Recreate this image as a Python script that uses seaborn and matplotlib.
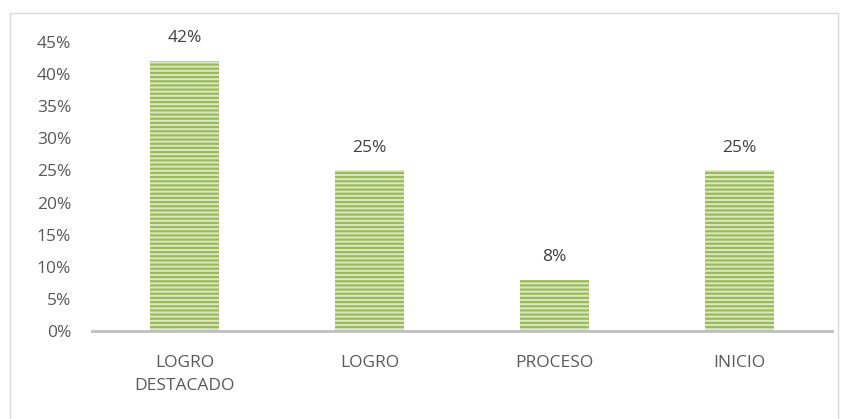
import matplotlib
matplotlib.use("Agg")
import matplotlib.pyplot as plt
import seaborn as sns
import pandas as pd
from matplotlib.patches import Rectangle

categories = ["LOGRO\nDESTACADO", "LOGRO", "PROCESO", "INICIO"]
values = [0.42, 0.25, 0.08, 0.25]
labels = ["42%", "25%", "8%", "25%"]
yticks = [0, 0.05, 0.10, 0.15, 0.20, 0.25, 0.30, 0.35, 0.40, 0.45]
yticklabels = ["0%", "5%", "10%", "15%", "20%", "25%", "30%", "35%", "40%", "45%"]

sns.set_style("white")
plt.rcParams["font.family"] = ["Open Sans", "DejaVu Sans"]
plt.rcParams["hatch.linewidth"] = 1.6

df = pd.DataFrame({"cat": categories, "val": values})

fig = plt.figure(figsize=(8.48, 4.19), dpi=100)
ax = fig.add_axes([92/848, 1-331/419, 740/848, (331-42)/419])

sns.barplot(data=df, x="cat", y="val", ax=ax, width=0.37,
            color="#dbe8c4", saturation=1)
for p in ax.patches:
    p.set_hatch("----")
    p.set_edgecolor("#9bbb59")
    p.set_linewidth(0)

for i, (v, t) in enumerate(zip(values, labels)):
    ax.text(i, v + 0.023, t, ha="center", va="bottom", fontsize=12.5,
            color="#404040", clip_on=False)

ax.set_ylim(0, 0.45)
ax.set_xlim(-0.5, 3.5)
ax.set_yticks(yticks)
ax.set_yticklabels(yticklabels)
ax.tick_params(axis="y", length=0, labelsize=12.5, labelcolor="#595959", pad=15)
ax.tick_params(axis="x", length=0, labelsize=12.5, labelcolor="#595959", pad=17)
for lbl in ax.get_xticklabels():
    lbl.set_linespacing(1.6)
ax.set_xlabel("")
ax.set_ylabel("")
for s in ["top", "right", "left"]:
    ax.spines[s].set_visible(False)
ax.spines["bottom"].set_color("#bfbfbf")
ax.spines["bottom"].set_linewidth(2)

fig.patches.append(Rectangle((10/848, -0.1), 828/848, 1 - 13/419 + 0.1,
                             transform=fig.transFigure, fill=False,
                             edgecolor="#d9d9d9", linewidth=1))

fig.savefig("out.png", dpi=100)
